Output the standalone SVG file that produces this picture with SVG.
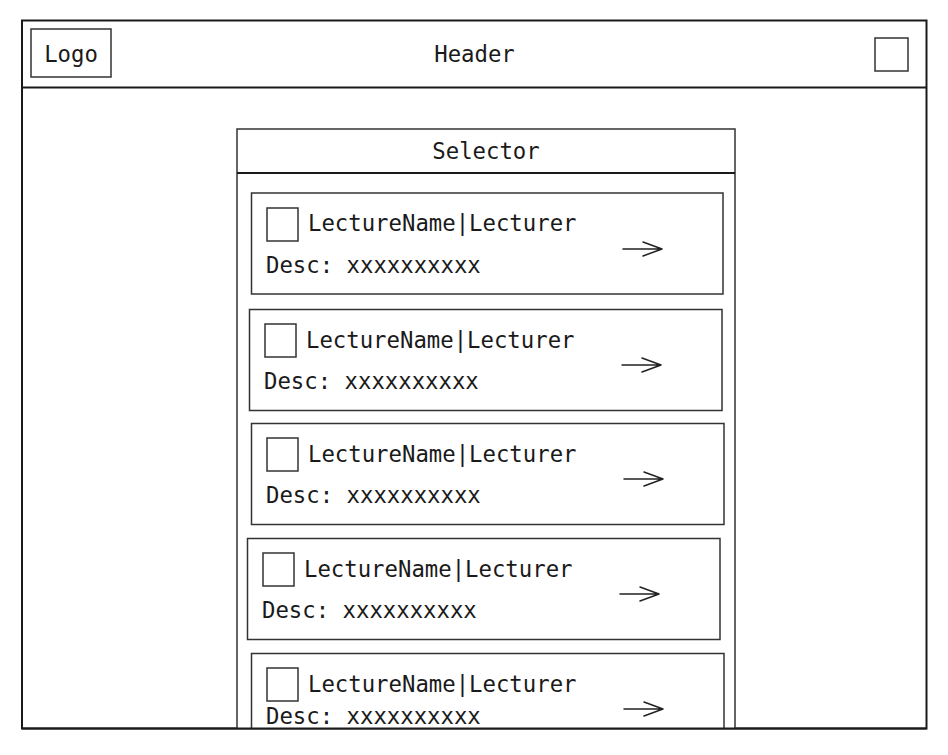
<svg xmlns="http://www.w3.org/2000/svg" width="948" height="755" viewBox="0 0 948 755">
<style>
text{font-family:"DejaVu Sans Mono","Liberation Mono",monospace;font-size:22.3px;fill:#1a1a1a}
.frame{fill:#fff;stroke:#1a1a1a;stroke-width:2}
.box{fill:#fff;stroke:#333;stroke-width:1.5}
.arr{fill:none;stroke:#222;stroke-width:1.5;stroke-linecap:round;stroke-linejoin:round}
.mid{text-anchor:middle}
</style>
<defs>
<clipPath id="content"><rect x="23" y="88" width="903" height="640"/></clipPath>
<symbol id="arrow" overflow="visible"><path class="arr" d="M0 0H39M20 -7L39 0L20 7"/></symbol>
</defs>
<rect width="948" height="755" fill="#fff"/>
<g id="frame">
<rect class="frame" x="22" y="20.5" width="904.5" height="708"/>
<line x1="22" y1="87.5" x2="926.5" y2="87.5" stroke="#1a1a1a" stroke-width="2"/>
</g>
<g id="header">
<text class="mid" x="474.5" y="62">Header</text>
</g>
<g id="logo">
<rect class="box" x="31" y="29" width="80" height="48"/>
<text class="mid" x="71" y="62">Logo</text>
</g>
<g id="menu-button">
<rect class="box" x="875" y="38" width="33" height="33"/>
</g>
<g clip-path="url(#content)">
<g id="selector">
<rect class="box" x="237" y="129" width="498" height="640"/>
<line x1="237" y1="173" x2="735" y2="173" stroke="#1a1a1a" stroke-width="2"/>
<text class="mid" x="486" y="159">Selector</text>
</g>
<g id="card1">
<rect class="box" x="251.5" y="193" width="471.5" height="101"/>
<rect class="box" x="267" y="208" width="31" height="33"/>
<text x="308" y="231">LectureName|Lecturer</text>
<text x="266" y="273">Desc: xxxxxxxxxx</text>
<use href="#arrow" x="623" y="249"/>
</g>
<g id="card2">
<rect class="box" x="249.5" y="309.5" width="472.5" height="101"/>
<rect class="box" x="265" y="324" width="31" height="33"/>
<text x="306" y="348">LectureName|Lecturer</text>
<text x="264" y="389">Desc: xxxxxxxxxx</text>
<use href="#arrow" x="622" y="365"/>
</g>
<g id="card3">
<rect class="box" x="251.5" y="423.5" width="472.5" height="101"/>
<rect class="box" x="267" y="438" width="31" height="33"/>
<text x="308" y="462">LectureName|Lecturer</text>
<text x="266" y="503">Desc: xxxxxxxxxx</text>
<use href="#arrow" x="624" y="479"/>
</g>
<g id="card4">
<rect class="box" x="247.5" y="538.5" width="472.5" height="101"/>
<rect class="box" x="263" y="553" width="31" height="33"/>
<text x="304" y="577">LectureName|Lecturer</text>
<text x="262" y="618">Desc: xxxxxxxxxx</text>
<use href="#arrow" x="620" y="594"/>
</g>
<g id="card5">
<rect class="box" x="251.5" y="653.5" width="472.5" height="101"/>
<rect class="box" x="267" y="668" width="31" height="33"/>
<text x="308" y="692">LectureName|Lecturer</text>
<text x="266" y="724">Desc: xxxxxxxxxx</text>
<use href="#arrow" x="624" y="709"/>
</g>
</g>
<g id="connectors"></g>
<line x1="22" y1="728.5" x2="926.5" y2="728.5" stroke="#1a1a1a" stroke-width="2"/>
</svg>
